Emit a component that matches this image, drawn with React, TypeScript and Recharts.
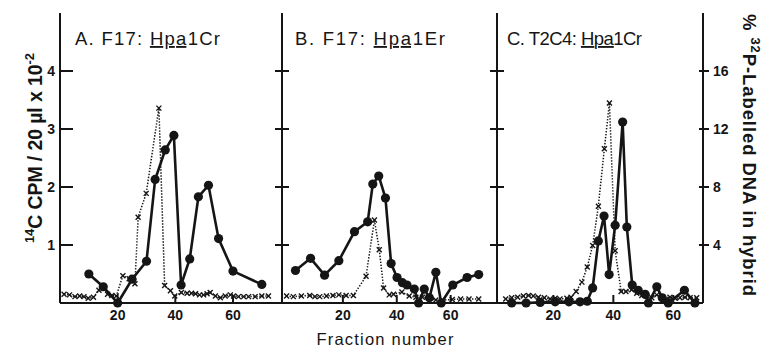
import React from 'react';
import { LineChart, Line, XAxis, YAxis } from 'recharts';

// ---------- Data ----------
// Panel A  (F17 : Hpa1Cr)
const fracA14C = [10, 15, 20, 25, 30, 33, 36.5, 39.5, 42, 45, 48, 51.5, 55, 60, 70];
const cpmA = [0.5, 0.28, 0.0, 0.41, 0.72, 2.13, 2.64, 2.89, 0.31, 0.76, 1.83, 2.03, 1.11, 0.55, 0.32];
const fracA32P = [1.4, 3.3, 5.2, 6.8, 8.3, 9.8, 11.6, 13.5, 15, 16.5, 18, 19.5, 21.8, 24, 26, 27.1, 29.9, 34.3, 36.3, 38.3, 39.8, 42.1, 44.1, 45.6, 47, 48.4, 49.8, 51, 52.1, 53.9, 55.6, 57.3, 59.1, 60.2, 61.9, 63.7, 65.4, 67.7, 70, 72.3];
const pctA = [0.6, 0.56, 0.44, 0.48, 0.44, 0.32, 0.4, 0.88, 1.04, 0.6, 0.52, 0.48, 1.88, 1.68, 1.32, 5.92, 7.56, 13.44, 1.2, 0.84, 0.48, 0.72, 0.68, 0.68, 0.64, 0.56, 0.56, 0.64, 0.72, 0.48, 0.36, 0.48, 0.56, 0.48, 0.44, 0.44, 0.44, 0.44, 0.48, 0.48];

// Panel B  (F17 : Hpa1Er)
const fracB14C = [2.4, 8, 13.2, 18.5, 24.3, 29.2, 31.1, 33.3, 35.8, 37.9, 40.1, 42.1, 43.8, 46.5, 48.1, 50.2, 52.1, 54.5, 56.5, 60.8, 66.1, 70.4];
const cpmB = [0.56, 0.77, 0.48, 0.73, 1.23, 1.4, 2.05, 2.19, 1.81, 0.68, 0.44, 0.35, 0.31, 0.24, 0.0, 0.24, 0.09, 0.53, 0.0, 0.31, 0.44, 0.49];
const fracB32P = [-0.9, 1.6, 4.6, 7.7, 9.6, 11.4, 13.9, 16.3, 18.5, 21.2, 23.9, 28.6, 31.7, 33.5, 35.1, 37.2, 38.8, 41.9, 44.6, 47.1, 49.5, 52, 54.5, 56.9, 60.6, 63.7, 66.8, 70.4];
const pctB = [0.48, 0.44, 0.48, 0.52, 0.44, 0.44, 0.48, 0.52, 0.56, 0.52, 0.52, 1.84, 5.72, 3.68, 1.04, 0.56, 0.6, 0.76, 0.48, 0.4, 0.4, 0.32, 0.2, 0.2, 0.24, 0.28, 0.28, 0.28];

// Panel C  (T2C4 : Hpa1Cr)
const fracC14C = [6.1, 10.9, 15.6, 20.6, 25.2, 28.9, 31.3, 33.1, 35, 36.9, 38.6, 40.6, 43.1, 44.5, 46.3, 48.3, 50.6, 51.7, 54.5, 56.3, 58.3, 63.7, 67.2];
const cpmC = [0, 0, 0.01, 0.02, 0.02, 0.02, 0.03, 0.26, 1.07, 1.5, 0.49, 1.34, 3.12, 1.31, 0.31, 0.22, 0.15, 0.0, 0.28, 0.09, 0.0, 0.22, 0.0];
const fracC32P = [4.1, 6.1, 8.1, 10, 11.7, 13.3, 15, 17, 18.9, 20.6, 22.2, 24.5, 25.9, 27.6, 29.5, 31.3, 33.1, 35, 37, 38.7, 40.6, 42.6, 44.2, 46.1, 47.8, 49.5, 51.1, 52.8, 54.5, 56.1, 57.5, 58.9, 60.6, 62.2, 63.9, 65.6, 67.8];
const pctC = [0.28, 0.36, 0.4, 0.48, 0.52, 0.48, 0.4, 0.36, 0.28, 0.32, 0.28, 0.32, 0.4, 0.8, 1.44, 2.48, 3.96, 6.68, 10.64, 13.8, 3.6, 0.8, 0.8, 0.92, 0.68, 0.52, 0.48, 0.36, 0.56, 0.36, 0.24, 0.4, 0.32, 0.36, 0.4, 0.36, 0.36];

const xTicks = [20, 40, 60];
const leftTicks = [1, 2, 3, 4];
const rightTicks = [4, 8, 12, 16];
const leftDomain = [0, 5];
const rightDomain = [0, 20];

// ---------- Style ----------
const INK = '#151515';
const FONT = '"Liberation Sans", Arial, sans-serif';
const WEIGHT = 700;
const H = 330;
const MARGIN_TOP = 13;
const XAXIS_H = 27;

const toPts = (f: number[], v: number[]) => f.map((x, i) => ({ f: x, v: v[i] }));

const CircleDot = (p: any) =>
  p.cx == null || p.cy == null ? null : <circle cx={p.cx} cy={p.cy} r={4.6} fill={INK} />;

const CrossDot = (p: any) => {
  if (p.cx == null || p.cy == null) return null;
  const s = 2.5;
  return (
    <g stroke={INK} strokeWidth={1.4}>
      <line x1={p.cx - s} y1={p.cy - s} x2={p.cx + s} y2={p.cy + s} />
      <line x1={p.cx - s} y1={p.cy + s} x2={p.cx + s} y2={p.cy - s} />
    </g>
  );
};

const XTick = (p: any) => (
  <g>
    <line x1={p.x} x2={p.x} y1={p.y} y2={p.y - 8} stroke={INK} strokeWidth={2} />
    <text x={p.x} y={p.y + 17} textAnchor="middle" fontSize={14} fontWeight={WEIGHT} fontFamily={FONT} fill={INK}>
      {p.payload.value}
    </text>
  </g>
);

const LeftLabeledTick = (p: any) => (
  <g>
    <line x1={p.x} x2={p.x + 13} y1={p.y} y2={p.y} stroke={INK} strokeWidth={2} />
    <text x={p.x - 5} y={p.y + 5} textAnchor="end" fontSize={14} fontWeight={WEIGHT} fontFamily={FONT} fill={INK}>
      {p.payload.value}
    </text>
  </g>
);

const CrossTick = (p: any) => (
  <line x1={p.x - 7} x2={p.x + 7} y1={p.y} y2={p.y} stroke={INK} strokeWidth={2} />
);

const RightLabeledTick = (p: any) => (
  <g>
    <line x1={p.x - 4} x2={p.x + 6} y1={p.y} y2={p.y} stroke={INK} strokeWidth={2} />
    <text x={p.x + 10} y={p.y + 5} textAnchor="start" fontSize={14} fontWeight={WEIGHT} fontFamily={FONT} fill={INK}>
      {p.payload.value}
    </text>
  </g>
);

type PanelProps = {
  left: number;
  width: number;
  leftAxisWidth: number;
  leftMode: 'labels' | 'cross';
  rightAxisWidth: number;
  xDomain: number[];
  solid: { f: number; v: number }[];
  dotted: { f: number; v: number }[];
};

const axisLine = { stroke: INK, strokeWidth: 2 };

function Panel(props: PanelProps) {
  const { left, width, leftAxisWidth, leftMode, rightAxisWidth, xDomain, solid, dotted } = props;
  return (
    <div style={{ position: 'absolute', left, top: 0 }}>
      <LineChart width={width} height={H} margin={{ top: MARGIN_TOP, right: 0, bottom: 0, left: 0 }}>
        <XAxis
          xAxisId="t"
          orientation="top"
          type="number"
          dataKey="f"
          domain={xDomain}
          allowDataOverflow
          height={0}
          tick={false}
          tickLine={false}
          axisLine={axisLine}
        />
        <XAxis
          xAxisId="b"
          type="number"
          dataKey="f"
          domain={xDomain}
          allowDataOverflow
          ticks={xTicks}
          interval={0}
          height={XAXIS_H}
          tickSize={0}
          tickMargin={0}
          tickLine={false}
          axisLine={axisLine}
          tick={<XTick />}
        />
        <YAxis
          yAxisId="l"
          orientation="left"
          type="number"
          domain={leftDomain}
          ticks={leftTicks}
          interval={0}
          width={leftAxisWidth}
          tickSize={0}
          tickMargin={0}
          tickLine={false}
          axisLine={axisLine}
          tick={leftMode === 'labels' ? <LeftLabeledTick /> : <CrossTick />}
        />
        <YAxis
          yAxisId="r"
          orientation="right"
          type="number"
          domain={rightDomain}
          ticks={rightTicks}
          interval={0}
          width={rightAxisWidth || 1}
          hide={!rightAxisWidth}
          tickSize={0}
          tickMargin={0}
          tickLine={false}
          axisLine={axisLine}
          tick={<RightLabeledTick />}
        />
        <Line
          data={dotted}
          dataKey="v"
          xAxisId="b"
          yAxisId="r"
          type="linear"
          stroke={INK}
          strokeWidth={1.5}
          strokeDasharray="1.4 1.6"
          dot={<CrossDot />}
          activeDot={false}
          isAnimationActive={false}
        />
        <Line
          data={solid}
          dataKey="v"
          xAxisId="b"
          yAxisId="l"
          type="linear"
          stroke={INK}
          strokeWidth={2.6}
          dot={<CircleDot />}
          activeDot={false}
          isAnimationActive={false}
        />
      </LineChart>
    </div>
  );
}

export default function App() {
  return (
    <div style={{ position: 'absolute', left: 0, top: 0, width: 763, height: 348, background: '#fff', overflow: 'hidden' }}>
      <Panel
        left={0}
        width={282}
        leftAxisWidth={60}
        leftMode="labels"
        rightAxisWidth={0}
        xDomain={[0, 77]}
        solid={toPts(fracA14C, cpmA)}
        dotted={toPts(fracA32P, pctA)}
      />
      <Panel
        left={272}
        width={225}
        leftAxisWidth={10}
        leftMode="cross"
        rightAxisWidth={0}
        xDomain={[-2.6, 77.2]}
        solid={toPts(fracB14C, cpmB)}
        dotted={toPts(fracB32P, pctB)}
      />
      <Panel
        left={487}
        width={276}
        leftAxisWidth={10}
        leftMode="cross"
        rightAxisWidth={60}
        xDomain={[1.2, 69.9]}
        solid={toPts(fracC14C, cpmC)}
        dotted={toPts(fracC32P, pctC)}
      />
      <svg
        width={763}
        height={348}
        style={{ position: 'absolute', left: 0, top: 0, pointerEvents: 'none' }}
        fontFamily={FONT}
        fontWeight={WEIGHT}
        fill={INK}
      >
        <text x={75} y={45} fontSize={18.5} fontWeight={400} textLength={145} lengthAdjust="spacing">
          {'A. F17: '}
          <tspan textDecoration="underline">Hpa</tspan>
          {'1Cr'}
        </text>
        <text x={295} y={45} fontSize={18.5} fontWeight={400} textLength={150} lengthAdjust="spacing">
          {'B. F17: '}
          <tspan textDecoration="underline">Hpa</tspan>
          {'1Er'}
        </text>
        <text x={507} y={45} fontSize={18.5} fontWeight={400} textLength={135} lengthAdjust="spacing">
          {'C. T2C4: '}
          <tspan textDecoration="underline">Hpa</tspan>
          {'1Cr'}
        </text>
        <text transform="translate(42,148) rotate(-90)" textAnchor="middle" fontSize={19.5} textLength={190} lengthAdjust="spacing">
          <tspan fontSize={13} dy={-8}>14</tspan>
          <tspan dy={8}>C CPM / 20 µl x 10</tspan>
          <tspan fontSize={13} dy={-8}>-2</tspan>
        </text>
        <text transform="translate(743,155) rotate(90)" textAnchor="middle" fontSize={18.5} textLength={282} lengthAdjust="spacing">
          {'% '}
          <tspan fontSize={13} dy={-8}>32</tspan>
          <tspan dy={8}>P-Labelled DNA in hybrid</tspan>
        </text>
        <text x={385} y={345} textAnchor="middle" fontSize={16.5} fontWeight={400} textLength={137} lengthAdjust="spacing">
          Fraction number
        </text>
      </svg>
    </div>
  );
}
